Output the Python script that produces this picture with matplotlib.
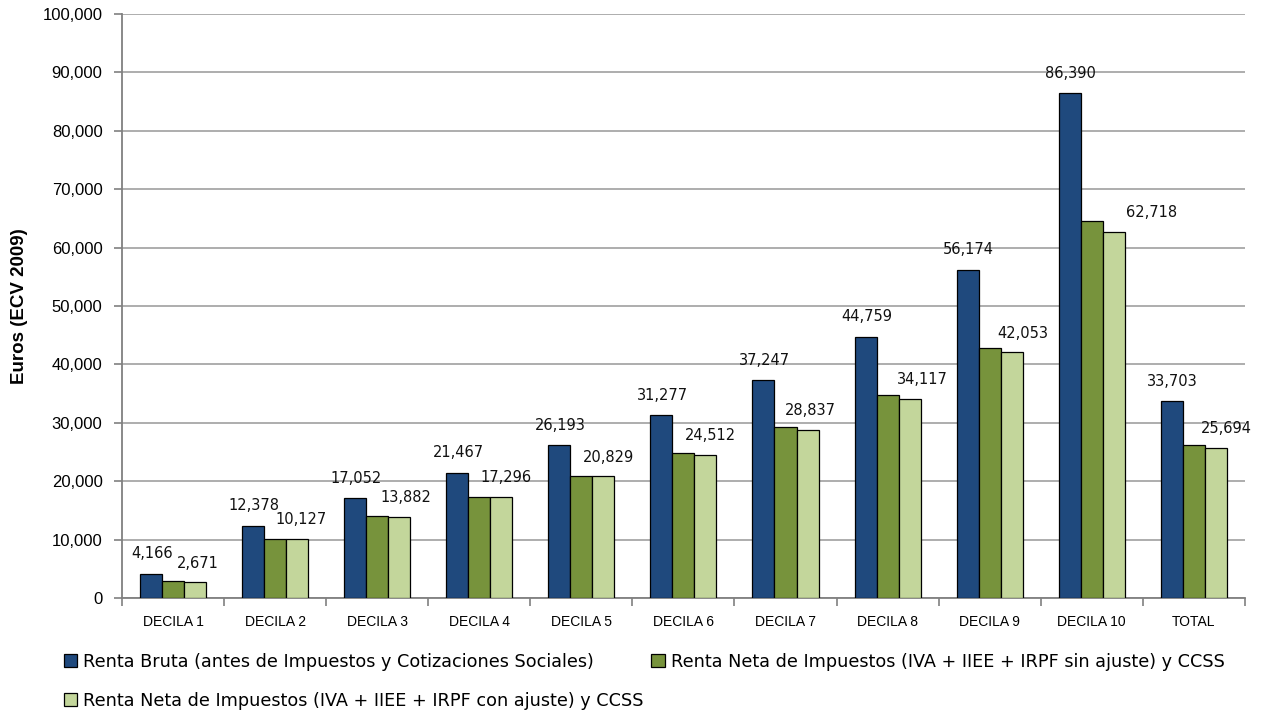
import numpy as np
import matplotlib.pyplot as plt
from matplotlib.ticker import FuncFormatter

categorias = ["DECILA 1", "DECILA 2", "DECILA 3", "DECILA 4", "DECILA 5", "DECILA 6",
              "DECILA 7", "DECILA 8", "DECILA 9", "DECILA 10", "TOTAL"]
renta_bruta = [4166, 12378, 17052, 21467, 26193, 31277, 37247, 44759, 56174, 86390, 33703]
neta_sin_ajuste = [2850, 10150, 14050, 17350, 20900, 24800, 29300, 34800, 42800, 64500, 26200]
neta_con_ajuste = [2671, 10127, 13882, 17296, 20829, 24512, 28837, 34117, 42053, 62718, 25694]

series_nombres = ["Renta Bruta (antes de Impuestos y Cotizaciones Sociales)",
                  "Renta Neta de Impuestos (IVA + IIEE + IRPF sin ajuste) y CCSS",
                  "Renta Neta de Impuestos (IVA + IIEE + IRPF con ajuste) y CCSS"]
colores = ["#1F497D", "#77933C", "#C3D69B"]

# desplazamiento horizontal (px) de las etiquetas de la tercera serie
dx_etiqueta = [3, 4, 7, 5, 5, 5, 3, 13, 11, 38, 10]

plt.rcParams['font.family'] = ['Liberation Sans', 'DejaVu Sans']

fig = plt.figure(figsize=(12.69, 7.17), dpi=100)
ax = fig.add_axes([0.0961, 0.166, 0.8849, 0.8145])

x = np.arange(len(categorias))
w = 0.216
datos = [renta_bruta, neta_sin_ajuste, neta_con_ajuste]
barras = []
for i, vals in enumerate(datos):
    b = ax.bar(x + (i - 1) * w, vals, w, color=colores[i], edgecolor="black",
               linewidth=0.9, label=series_nombres[i], zorder=3)
    barras.append(b)

for i in range(len(categorias)):
    ax.annotate(f"{renta_bruta[i]:,}", (x[i] - w, renta_bruta[i]), xytext=(1, 20),
                textcoords="offset pixels", ha="center", va="center",
                fontsize=10.5, family="DejaVu Sans", color="#111111")
    ax.annotate(f"{neta_con_ajuste[i]:,}", (x[i] + w, neta_con_ajuste[i]),
                xytext=(dx_etiqueta[i], 19), textcoords="offset pixels",
                ha="center", va="center", fontsize=10.5, family="DejaVu Sans",
                color="#111111")

ax.set_xlim(-0.5, len(categorias) - 0.5)
ax.set_ylim(0, 100000)
ax.set_yticks(np.arange(0, 100001, 10000))
ax.yaxis.set_major_formatter(FuncFormatter(lambda v, p: f"{int(v):,}"))
ax.set_xticks(x)
ax.set_xticklabels(categorias, fontsize=10)
ax.set_xticks(np.arange(-0.5, len(categorias), 1), minor=True)
ax.tick_params(axis="x", which="major", length=0, pad=12)
ax.tick_params(axis="x", which="minor", length=6, color="#808080", width=1.2)
ax.tick_params(axis="y", length=6, color="#808080", width=1.2, labelsize=12, pad=8)

ax.grid(axis="y", color="#A0A0A0", linewidth=1.2, zorder=0)
ax.set_axisbelow(True)
for s in ["top", "right"]:
    ax.spines[s].set_visible(False)
for s in ["left", "bottom"]:
    ax.spines[s].set_color("#808080")
    ax.spines[s].set_linewidth(1.3)

ax.set_ylabel("Euros (ECV 2009)", fontsize=13.5, fontweight="bold")
ax.yaxis.set_label_coords(-0.084, 0.5)

h = barras
fig.legend([h[0], h[2], h[1]], [series_nombres[0], series_nombres[2], series_nombres[1]],
           ncol=2, loc="lower left", bbox_to_anchor=(0.0445, 0.0), frameon=False,
           prop={"family": "DejaVu Sans", "size": 12.7}, handlelength=0.75,
           handleheight=0.75, handletextpad=0.35, columnspacing=0.45,
           labelspacing=1.2, borderaxespad=0.0)

fig.savefig("out.png", dpi=100)
